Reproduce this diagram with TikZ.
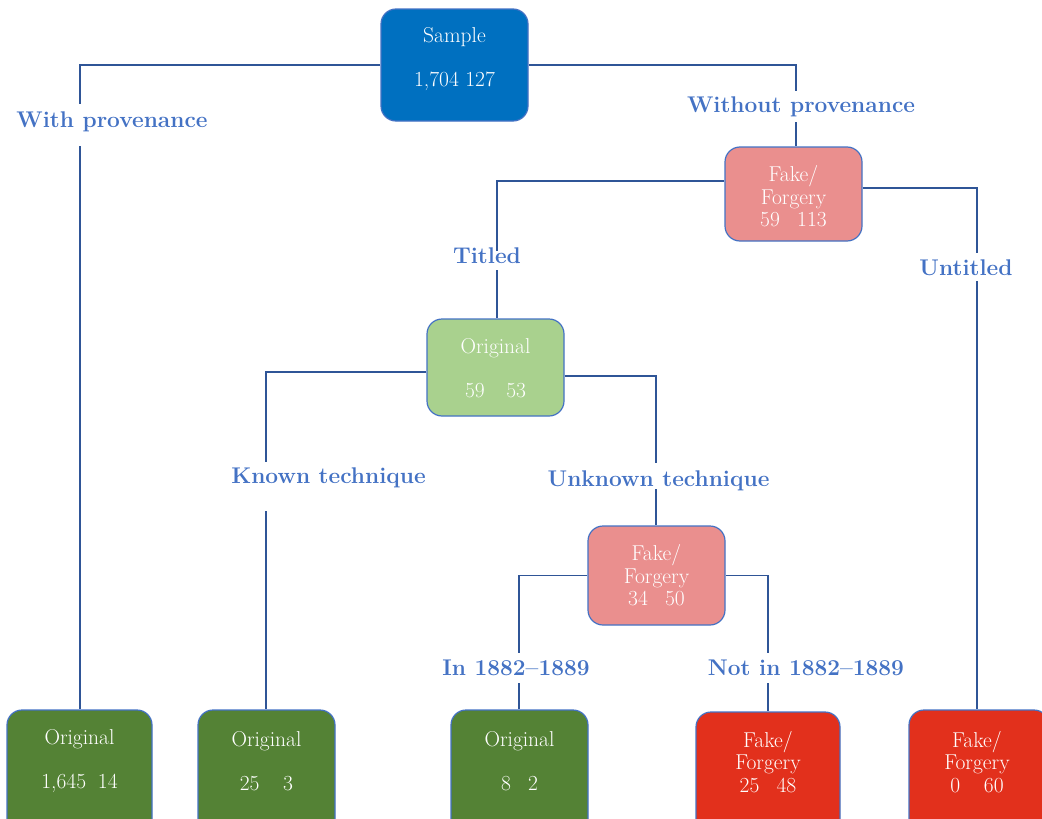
\documentclass[tikz,border=0pt]{standalone}
\usetikzlibrary{backgrounds}
\definecolor{sampleblue}{HTML}{0070C0}
\definecolor{fakepink}{HTML}{EA8F8E}
\definecolor{origlight}{HTML}{A9D18E}
\definecolor{origdark}{HTML}{548235}
\definecolor{fakered}{HTML}{E2301C}
\definecolor{edgeblue}{HTML}{4472C4}
\definecolor{linkblue}{HTML}{2F5597}
\begin{document}
\begin{tikzpicture}[x=1pt,y=-1pt,
  box/.style={rectangle, draw=edgeblue, line width=1.2pt, rounded corners=15pt, inner sep=0pt},
  boxtext/.style={text=white, align=center, inner sep=0pt, font=\fontsize{21.5}{22.5}\selectfont},
  lab/.style={text=edgeblue, inner sep=0pt, anchor=base, font=\bfseries\fontsize{22.7}{25}\selectfont},
  link/.style={draw=linkblue, line width=1.8pt}]
\useasboundingbox (0,0) rectangle (1042,819);
\clip (0,0) rectangle (1042,819);

% decision boxes
\node[box, fill=sampleblue, minimum width=147pt, minimum height=112pt] (sample) at (454.5,65) {};
\node[box, fill=fakepink,   minimum width=137pt, minimum height=94pt]  (fake1)  at (793.5,194) {};
\node[box, fill=origlight,  minimum width=137pt, minimum height=97pt]  (orig1)  at (495.5,367.5) {};
\node[box, fill=fakepink,   minimum width=137pt, minimum height=99pt]  (fake2)  at (656.5,575.5) {};
% leaves, running past the lower edge
\node[box, fill=origdark, minimum width=145pt, minimum height=160pt] (leaf1) at (79.5,790) {};
\node[box, fill=origdark, minimum width=137pt, minimum height=160pt] (leaf2) at (266.5,790) {};
\node[box, fill=origdark, minimum width=137pt, minimum height=160pt] (leaf3) at (519.5,790) {};
\node[box, fill=fakered,  minimum width=144pt, minimum height=160pt] (leaf4) at (768,792) {};
\node[box, fill=fakered,  minimum width=140pt, minimum height=160pt] (leaf5) at (979,790) {};

% box texts
\node[boxtext] (sample-t) at (454.5,59)  {Sample\\[21.5pt]1,704 127};
\node[boxtext] (fake1-t)  at (793.5,196.5) {Fake/\\Forgery\\59\hspace{0.8em}113};
\node[boxtext] (orig1-t)  at (495.5,368) {Original\\[21.5pt]59\hspace{1em}53};
\node[boxtext] (fake2-t)  at (656.5,575.5) {Fake/\\Forgery\\34\hspace{0.8em}50};
\node[boxtext] (leaf1-t)  at (79.5,761)  {Original\\[21.5pt]1,645\hspace{0.55em}14};
\node[boxtext] (leaf2-t)  at (266.5,761) {Original\\[21.5pt]25\hspace{1.1em}3};
\node[boxtext] (leaf3-t)  at (519.5,761) {Original\\[21.5pt]8\hspace{0.8em}2};
\node[boxtext] (leaf4-t)  at (768,762)   {Fake/\\Forgery\\25\hspace{0.8em}48};
\node[boxtext] (leaf5-t)  at (977,762)   {Fake/\\Forgery\\0\hspace{1.1em}60};

% branch labels
\node[lab] (with)    at (112,127)   {With provenance};
\node[lab] (without) at (801,112)   {Without provenance};
\node[lab] (titled)  at (487,263)   {Titled};
\node[lab] (untitled) at (966,275)  {Untitled};
\node[lab] (known)   at (328.5,483) {Known technique};
\node[lab] (unknown) at (658.5,486) {Unknown technique};
\node[lab] (inper)   at (516,675)   {In 1882--1889};
\node[lab] (notper)  at (806,675)   {Not in 1882--1889};

% ends of the gaps left around the branch labels
\coordinate (g1a) at (80,104);  \coordinate (g1b) at (80,146);
\coordinate (g2a) at (796,91);  \coordinate (g2b) at (796,122);
\coordinate (g3a) at (497,251); \coordinate (g3b) at (497,270);
\coordinate (g4a) at (977,253); \coordinate (g4b) at (977,281);
\coordinate (g5a) at (266,462); \coordinate (g5b) at (266,511);
\coordinate (g6a) at (656,463); \coordinate (g6b) at (656,489);
\coordinate (g7a) at (519,653); \coordinate (g7b) at (519,683);
\coordinate (g8a) at (768,653); \coordinate (g8b) at (768,683);

\begin{pgfonlayer}{background}
  \draw[link] (sample.west) -| (g1a);
  \draw[link] (g1b) -- (g1b |- leaf1.north);
  \draw[link] (sample.east) -| (g2a);
  \draw[link] (g2b) -- (g2b |- fake1.north);
  \draw[link] ([yshift=13pt]fake1.west) -| (g3a);
  \draw[link] (g3b) -- (g3b |- orig1.north);
  \draw[link] ([yshift=6pt]fake1.east) -| (g4a);
  \draw[link] (g4b) -- (g4b |- leaf5.north);
  \draw[link] ([yshift=-4.5pt]orig1.west) -| (g5a);
  \draw[link] (g5b) -- (g5b |- leaf2.north);
  \draw[link] ([yshift=-8.5pt]orig1.east) -| (g6a);
  \draw[link] (g6b) -- (g6b |- fake2.north);
  \draw[link] (fake2.west) -| (g7a);
  \draw[link] (g7b) -- (g7b |- leaf3.north);
  \draw[link] (fake2.east) -| (g8a);
  \draw[link] (g8b) -- (g8b |- leaf4.north);
\end{pgfonlayer}
\end{tikzpicture}
\end{document}
